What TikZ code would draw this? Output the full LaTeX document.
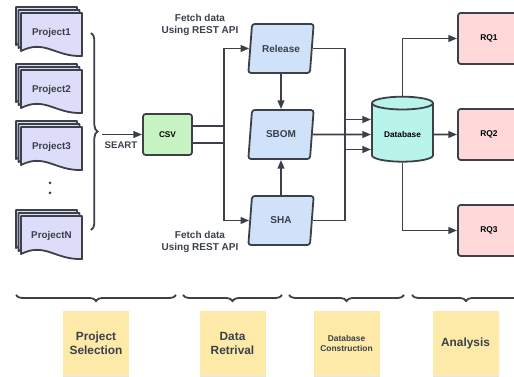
\documentclass[tikz,border=0pt]{standalone}
\usepackage{fontspec}
\setmainfont{Liberation Sans}
\usepackage{xcolor}
\usetikzlibrary{arrows.meta,shapes.geometric,decorations.pathreplacing,shadows}

\definecolor{lineclr}{RGB}{60,65,73}
\definecolor{txtclr}{RGB}{58,64,74}
\definecolor{docfill}{RGB}{221,221,250}
\definecolor{csvfill}{RGB}{200,244,195}
\definecolor{parafill}{RGB}{207,226,250}
\definecolor{dbfill}{RGB}{184,244,234}
\definecolor{rqfill}{RGB}{255,217,217}
\definecolor{notefill}{RGB}{253,233,168}

\begin{document}
\begin{tikzpicture}[x=0.75pt,y=0.75pt,yscale=-1,xscale=1,
    line width=1.35pt,
    arr/.style={draw=lineclr,-{Triangle[length=6.5pt,width=5pt]}},
    docshape/.style={draw=lineclr,fill=docfill,line join=round},
    doclabel/.style={text=txtclr,font=\fontsize{7.4}{8.5}\selectfont\bfseries},
    box/.style={draw=lineclr,rounded corners=2pt,text=black},
    para/.style={trapezium,trapezium left angle=77,trapezium right angle=103,
        trapezium stretches body,draw=lineclr,fill=parafill,rounded corners=2pt,
        minimum width=49pt,minimum height=36.75pt,text=txtclr,
        font=\fontsize{7.5}{8.5}\selectfont\bfseries},
    note/.style={fill=notefill,minimum width=49.5pt,minimum height=48.75pt,align=center,
        text=txtclr,drop shadow={shadow xshift=0pt,shadow yshift=-1pt,opacity=0.2}},
    plain/.style={text=txtclr,align=center,inner sep=0.75pt}]
  \useasboundingbox (0,0) rectangle (514,377);

  % project documents (stacks of three)
  \foreach \t/\lbl/\nm in {13/Project1/p1,70/Project2/p2,127/Project3/p3,216/ProjectN/pn}{
    \foreach \dx/\dy in {-5/-6,-2.5/-3,0/0}{
      \draw[docshape] (21+\dx,\t+\dy) -- (82+\dx,\t+\dy) -- (82+\dx,\t+43+\dy)
        .. controls (55+\dx,\t+44+\dy) and (45+\dx,\t+26+\dy) .. (21+\dx,\t+38+\dy) -- cycle;
    }
    \node[doclabel] (\nm) at (51.5,\t+20) {\lbl};
  }
  \fill[lineclr] (50,183) circle (1.5);
  \fill[lineclr] (50,193) circle (1.5);

  % brace round the projects
  \draw[lineclr,decorate,decoration={brace,amplitude=5pt}] (91,33) -- (91,230);
  \coordinate (bracetip) at (102,134.5);

  % CSV
  \node[box,fill=csvfill,minimum width=36.75pt,minimum height=30.75pt,
        font=\fontsize{6.2}{7}\selectfont\bfseries] (csv) at (167.5,134.5) {CSV};
  \draw[arr] (bracetip) -- (csv.west);
  \node[plain,font=\fontsize{7.2}{8}\selectfont\bfseries] (seart) at (121,145) {SEART};

  % data retrieval
  \node[para] (rel) at (281,48.5) {Release};
  \node[para] (sbom) at (281,134.5) {SBOM};
  \node[para] (sha) at (281,220.5) {SHA};
  \draw[arr] ([yshift=6.4pt]csv.east) -- ++(31,0) |- (rel.west);
  \draw[arr] ([yshift=-6.4pt]csv.east) -- ++(31,0) |- (sha.west);
  \draw[arr] (rel.south) -- (sbom.north);
  \draw[arr] (sha.north) -- (sbom.south);
  \node[plain,font=\fontsize{7.5}{9}\selectfont\bfseries] (fetchtop) at (200,25) {Fetch data\\Using REST API};
  \node[plain,font=\fontsize{7.5}{9}\selectfont\bfseries] (fetchbot) at (200,242) {Fetch data\\Using REST API};

  % database
  \node[cylinder,shape border rotate=90,aspect=0.28,draw=lineclr,fill=dbfill,
        minimum width=45.75pt,minimum height=48.75pt,text=black,
        font=\fontsize{6.2}{7}\selectfont\bfseries] (db) at (402.5,134.5) {Database};
  \draw[arr] (rel.east) -- ++(32,0) |- ([yshift=11.25pt]db.west);
  \draw[arr] (sbom.east) -- (db.west);
  \draw[arr] (sha.east) -- ++(32,0) |- ([yshift=-11.25pt]db.west);

  % research questions
  \foreach \y/\lbl/\nm in {38.5/RQ1/rq1,134.5/RQ2/rq2,230.5/RQ3/rq3}{
    \node[box,fill=rqfill,minimum width=46.5pt,minimum height=38.25pt,
          font=\fontsize{6.3}{7}\selectfont\bfseries] (\nm) at (489,\y) {\lbl};
  }
  \draw[arr] (db.north) |- (rq1.west);
  \draw[arr] (db.east) -- (rq2.west);
  \draw[arr] (db.south) |- (rq3.west);

  % stages
  \foreach \a/\b in {16/176,183/282,289/404,412/520}{
    \draw[lineclr,decorate,decoration={brace,mirror,amplitude=4.5pt}] (\a,295) -- (\b,295);
  }
  \node[note,font=\fontsize{8.9}{10.5}\selectfont\bfseries] (s1) at (96,343.5) {Project\\Selection};
  \node[note,font=\fontsize{8.9}{10.5}\selectfont\bfseries] (s2) at (232.5,343.5) {Data\\Retrival};
  \node[note,font=\fontsize{6.3}{7.8}\selectfont\bfseries] (s3) at (346.5,343.5) {Database\\Construction};
  \node[note,font=\fontsize{8.9}{10.5}\selectfont\bfseries] (s4) at (465.5,343.5) {Analysis};
\end{tikzpicture}
\end{document}
